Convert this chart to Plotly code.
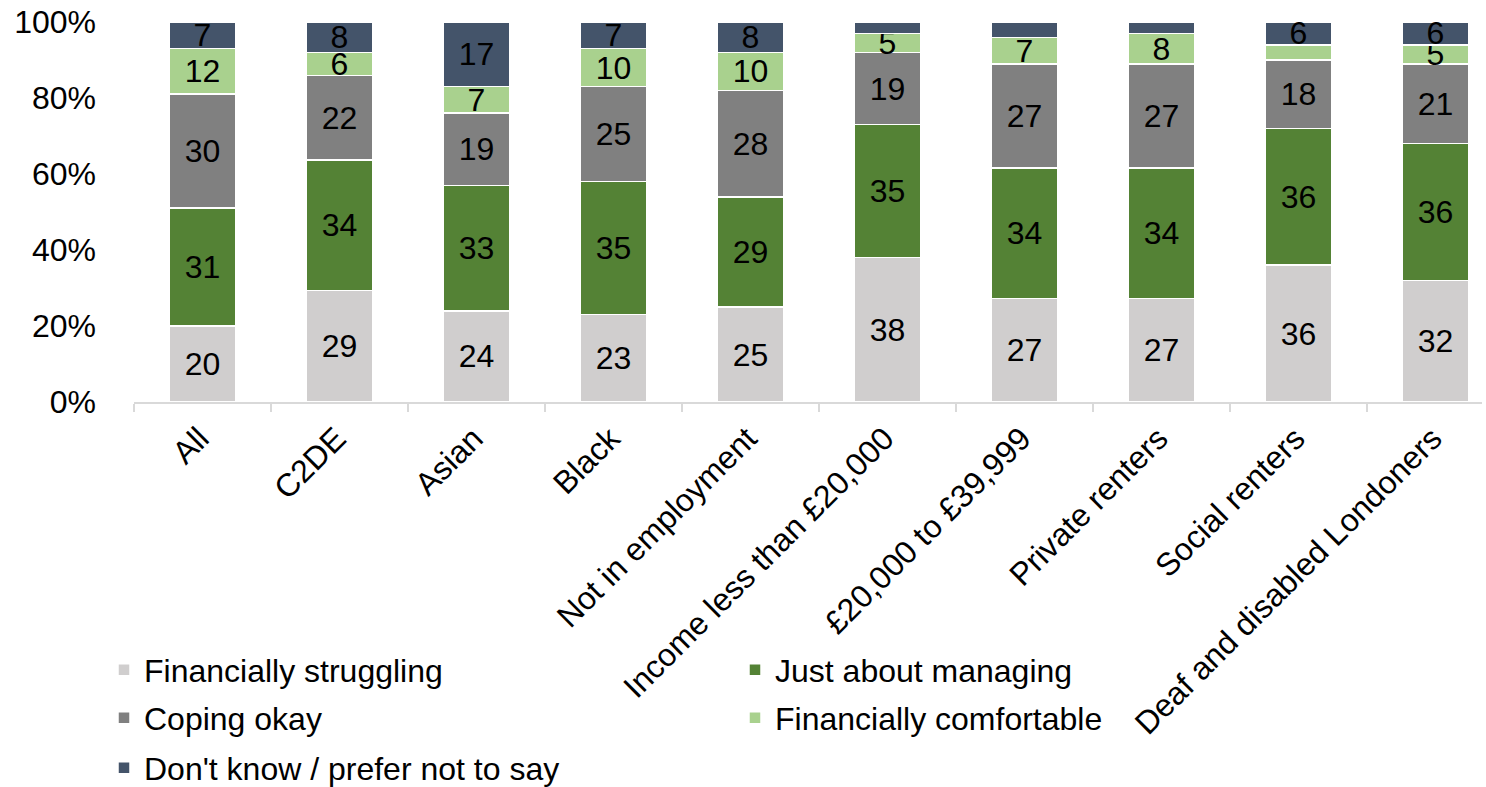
import plotly.graph_objects as go

categories = ["All", "C2DE", "Asian", "Black", "Not in employment",
              "Income less than £20,000", "£20,000 to £39,999", "Private renters",
              "Social renters", "Deaf and disabled Londoners"]

struggling = [20, 29, 24, 23, 25, 38, 27, 27, 36, 32]
managing = [31, 34, 33, 35, 29, 35, 34, 34, 36, 36]
coping = [30, 22, 19, 25, 28, 19, 27, 27, 18, 21]
comfortable = [12, 6, 7, 10, 10, 5, 7, 8, 4, 5]
dont_know = [7, 8, 17, 7, 8, 3, 4, 3, 6, 6]

series_names = ["Financially struggling", "Just about managing", "Coping okay",
                "Financially comfortable", "Don't know / prefer not to say"]
series_values = [struggling, managing, coping, comfortable, dont_know]
colors = ["#D0CECE", "#548235", "#808080", "#A9D18E", "#44546A"]
legend_ids = ["legend", "legend2", "legend3", "legend4", "legend5"]

ytick_vals = [0, 20, 40, 60, 80, 100]
ytick_text = ["0%", "20%", "40%", "60%", "80%", "100%"]

FONT = "Arial, Liberation Sans, sans-serif"
FS = 32

fig = go.Figure()
for name, vals, col, lg in zip(series_names, series_values, colors, legend_ids):
    labels = [str(v) if v >= 5 else "" for v in vals]
    fig.add_trace(go.Bar(
        name=name, x=categories, y=vals,
        marker=dict(color=col, line=dict(color="white", width=1.5)),
        text=labels, textposition="inside", insidetextanchor="middle", textangle=0,
        textfont=dict(color="black", size=FS, family=FONT), legend=lg, showlegend=True,
    ))

W, H = 1486, 787
L, T = 134, 22
R = 4
B = H - 402
pw = W - L - R
ph = H - T - B
CAT_PX = 137  # width of one category slot in the reference (chart is cropped on the right)
x_range = [-0.5, -0.5 + pw / CAT_PX]


def px_x(px):
    return (px - L) / pw


def px_y(py):
    return (H - B - py) / ph


leg_common = dict(orientation="h", font=dict(size=FS, family=FONT, color="black"),
                  bgcolor="rgba(0,0,0,0)", yanchor="middle", xanchor="left")

fig.update_layout(
    width=W, height=H,
    margin=dict(l=L, r=R, t=T, b=B, autoexpand=False),
    barmode="stack", barnorm="percent", bargap=0.51,
    plot_bgcolor="white", paper_bgcolor="white",
    font=dict(family=FONT, size=FS, color="black"),
    uniformtext=dict(minsize=FS, mode="show"),
    showlegend=True,
    xaxis=dict(range=x_range, showline=True, linecolor="#D9D9D9", linewidth=2, ticks="outside",
               tickson="boundaries", ticklen=8, tickcolor="#D9D9D9", tickwidth=2,
               tickangle=-45, tickfont=dict(size=FS, family=FONT, color="black"),
               ticklabelstandoff=3, ticklabelshift=-3, showgrid=False),
    yaxis=dict(range=[0, 100], tickmode="array", tickvals=ytick_vals, ticktext=ytick_text,
               showgrid=False, showline=False, zeroline=False, ticklabeloverflow="allow",
               tickfont=dict(size=FS, family=FONT, color="black"), ticklabelstandoff=37),
    legend=dict(**leg_common, x=px_x(104), y=px_y(670)),
    legend2=dict(**leg_common, x=px_x(735), y=px_y(670)),
    legend3=dict(**leg_common, x=px_x(104), y=px_y(718)),
    legend4=dict(**leg_common, x=px_x(735), y=px_y(718)),
    legend5=dict(**leg_common, x=px_x(104), y=px_y(768)),
)

# remove the default 8px page margin so the figure fills the 1486x787 window exactly
fig.write_html("out.html", config={"displayModeBar": False},
               post_script="document.body.style.margin='0';")
